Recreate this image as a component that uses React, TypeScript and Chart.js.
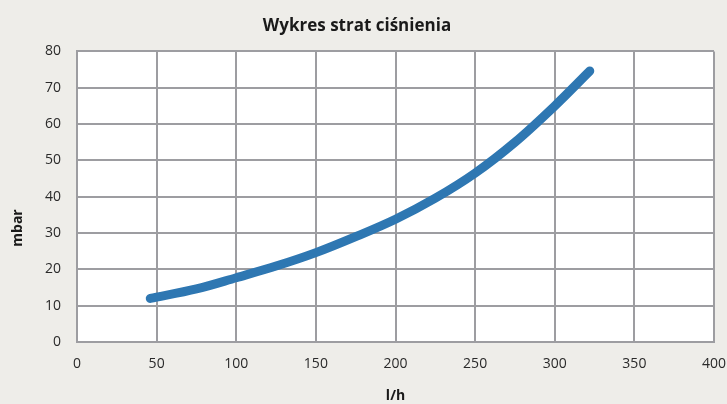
import React, { useEffect, useRef } from "react";
import { Chart, registerables } from "chart.js";

Chart.register(...registerables);

const flowValues = [46, 75, 100, 125, 150, 175, 200, 225, 250, 275, 300, 322];
const pressureValues = [12, 14.6, 17.7, 20.9, 24.6, 29, 33.8, 39.6, 46.5, 55, 65, 74.6];
const xTickMax = 400;
const yTickMax = 80;

const titleText = "Wykres strat ciśnienia";
const xTitle = "l/h";
const yTitle = "mbar";

const gridColor = "#9d9da1";
const lineColor = "#2e77b2";
const bgColor = "#eeede9";
const fontFamily = "'Open Sans', 'Liberation Sans', sans-serif";

export default function App() {
  const ref = useRef<HTMLCanvasElement | null>(null);

  useEffect(() => {
    document.body.style.margin = "0";
    if (!ref.current) return;
    const plotBg = {
      id: "plotBg",
      beforeDraw(chart: any) {
        const { ctx, chartArea } = chart;
        ctx.save();
        ctx.fillStyle = bgColor;
        ctx.fillRect(0, 0, chart.width, chart.height);
        ctx.fillStyle = "#ffffff";
        ctx.fillRect(chartArea.left, chartArea.top, chartArea.right - chartArea.left, chartArea.bottom - chartArea.top);
        ctx.restore();
      },
    };
    const yTitlePlugin = {
      id: "yTitlePlugin",
      afterDraw(chart: any) {
        const { ctx, chartArea } = chart;
        ctx.save();
        ctx.translate(18, chartArea.bottom - 114);
        ctx.rotate(-Math.PI / 2);
        ctx.fillStyle = "#1a1a1a";
        ctx.font = `bold 14px ${fontFamily}`;
        ctx.textAlign = "center";
        ctx.textBaseline = "middle";
        ctx.fillText(yTitle, 0, 0);
        ctx.restore();
      },
    };
    const chart = new Chart(ref.current, {
      type: "line",
      data: {
        datasets: [
          {
            data: flowValues.map((x, i) => ({ x, y: pressureValues[i] })),
            borderColor: lineColor,
            borderWidth: 9,
            borderCapStyle: "round",
            borderJoinStyle: "round",
            pointRadius: 0,
            cubicInterpolationMode: "monotone",
            fill: false,
          },
        ],
      },
      options: {
        animation: false,
        responsive: false,
        layout: { padding: { left: 0, right: 13, top: 0, bottom: 0 } },
        plugins: {
          legend: { display: false },
          tooltip: { enabled: false },
          title: {
            display: true,
            text: titleText,
            color: "#1a1a1a",
            font: { family: fontFamily, size: 17, weight: "bold" },
            padding: { top: 16, bottom: 15 },
          },
        },
        scales: {
          x: {
            type: "linear",
            min: 0,
            max: xTickMax,
            ticks: { stepSize: 50, color: "#2a2a2a", font: { family: fontFamily, size: 14 }, padding: 14, maxRotation: 0 },
            grid: { color: gridColor, lineWidth: 2, drawTicks: false },
            border: { color: gridColor, width: 2 },
            title: {
              display: true,
              text: xTitle,
              color: "#1a1a1a",
              font: { family: fontFamily, size: 14, weight: "bold" },
              padding: { top: 0, bottom: 0 },
            },
            afterFit(scale: any) {
              scale.height = 62;
              scale.paddingRight = 0;
              scale.paddingLeft = 0;
            },
          },
          y: {
            min: 0,
            max: yTickMax,
            ticks: { stepSize: 10, color: "#2a2a2a", font: { family: fontFamily, size: 14 }, padding: 16 },
            grid: { color: gridColor, lineWidth: 2, drawTicks: false },
            border: { color: gridColor, width: 2 },
            title: { display: false },
            afterFit(scale: any) {
              scale.width = 77;
            },
          },
        },
      },
      plugins: [plotBg, yTitlePlugin],
    } as any);
    return () => chart.destroy();
  }, []);

  return (
    <div style={{ width: 727, height: 404, background: bgColor }}>
      <canvas ref={ref} width={727} height={404} style={{ display: "block" }} />
    </div>
  );
}
